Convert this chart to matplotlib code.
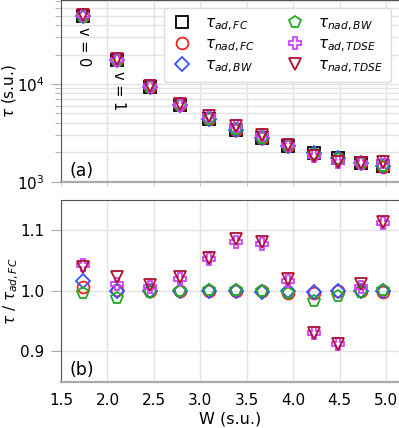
import numpy as np
import matplotlib
matplotlib.use('Agg')
import matplotlib.pyplot as plt

# -*- DATA -*-
w_vals = [1.74, 2.10, 2.46, 2.78, 3.09, 3.38, 3.66, 3.94, 4.22, 4.48, 4.73, 4.97]

# adiabatic Franck-Condon lifetimes (reference series)
tau_ad_fc = [49000, 17500, 9400, 6040, 4430, 3430, 2820, 2330, 1960, 1750, 1560, 1440]

# ratios tau / tau_ad,FC
ratio_nad_fc = [1.006, 1.001, 1.000, 1.000, 1.000, 1.000, 1.000, 0.996, 0.996, 1.000, 1.000, 0.998]
ratio_ad_bw = [1.017, 1.000, 1.000, 1.000, 1.000, 1.000, 0.998, 1.000, 0.998, 1.000, 1.000, 1.000]
ratio_nad_bw = [0.997, 0.989, 0.998, 1.000, 1.001, 1.002, 1.000, 0.997, 0.983, 0.991, 0.998, 1.001]
ratio_ad_tdse = [1.043, 1.011, 1.006, 1.020, 1.052, 1.080, 1.077, 1.017, 0.930, 0.912, 1.006, 1.112]
ratio_nad_tdse = [1.039, 1.023, 1.010, 1.023, 1.055, 1.085, 1.081, 1.019, 0.931, 0.913, 1.011, 1.114]

labels = [r'$\tau_{ad,FC}$', r'$\tau_{nad,FC}$', r'$\tau_{ad,BW}$',
          r'$\tau_{nad,BW}$', r'$\tau_{ad,TDSE}$', r'$\tau_{nad,TDSE}$']

# -*- STYLE -*-
markers = ['s', 'o', 'D', 'p', 'P', 'v']
colours = ['black', '#ff2020', '#3355ff', '#22aa22', '#cc44ff', '#b01030']
sizes = [8.5, 8.5, 7.5, 8.5, 8.5, 8.5]
spine_dark = '#555555'
spine_light = '#aaaaaa'
grid_colour = '#e3e3e3'

plt.rcParams['font.size'] = 11.5
plt.rcParams['mathtext.fontset'] = 'dejavusans'

fig = plt.figure(figsize=(3.99, 4.28), dpi=100)
ax1 = fig.add_axes([0.1529, 0.5748, 0.8471, 0.4252])
ax2 = fig.add_axes([0.1529, 0.1082, 0.8471, 0.4245])

ratios = [None, ratio_nad_fc, ratio_ad_bw, ratio_nad_bw, ratio_ad_tdse, ratio_nad_tdse]

# panel (a): absolute lifetimes
for i in range(6):
    if ratios[i] is None:
        y = np.array(tau_ad_fc)
    else:
        y = np.array(tau_ad_fc) * np.array(ratios[i])
    ax1.plot(w_vals, y, linestyle='none', marker=markers[i], ms=sizes[i],
             mfc='none', mec=colours[i], mew=1.3, label=labels[i])

# panel (b): ratios (ad,FC is the reference so not drawn)
for i in range(1, 6):
    ax2.plot(w_vals, ratios[i], linestyle='none', marker=markers[i], ms=sizes[i],
             mfc='none', mec=colours[i], mew=1.3)

ax1.set_yscale('log')
ax1.set_ylim(1e3, 7.2e4)
ax2.set_ylim(0.85, 1.15)
ax2.set_yticks([0.9, 1.0, 1.1])

for ax in [ax1, ax2]:
    ax.set_xlim(1.5, 5.138)
    ax.set_xticks([1.5, 2.0, 2.5, 3.0, 3.5, 4.0, 4.5, 5.0])
    ax.grid(True, which='major', color=grid_colour, linewidth=1)
    ax.set_axisbelow(True)
    ax.spines['left'].set_color(spine_dark)
    ax.spines['top'].set_color(spine_dark)
    ax.spines['right'].set_visible(False)
    ax.spines['bottom'].set_color(spine_light)
    ax.spines['bottom'].set_linewidth(1.6)
    ax.tick_params(axis='y', which='major', direction='out', length=7,
                   color=spine_light, pad=5, labelsize=11)
    ax.tick_params(axis='y', which='minor', direction='out', length=4,
                   color=spine_light)

ax1.grid(True, which='minor', axis='y', color=grid_colour, linewidth=1)
ax1.tick_params(axis='x', which='both', labelbottom=False, length=3,
                color='#cccccc', pad=8)
ax2.tick_params(axis='x', which='both', length=0, pad=8, labelsize=11)

ax1.set_ylabel(r'$\tau$ (s.u.)', fontsize=11)
ax2.set_ylabel(r'$\tau$ / $\tau_{ad,FC}$', fontsize=11)
ax1.yaxis.set_label_coords(-0.127, 0.5)
ax2.yaxis.set_label_coords(-0.118, 0.5)
ax2.set_xlabel('W (s.u.)', labelpad=3)

ax1.text(0.025, 0.035, '(a)', transform=ax1.transAxes, fontsize=12.5)
ax2.text(0.025, 0.035, '(b)', transform=ax2.transAxes, fontsize=12.5)

# vibrational level annotations
ax1.text(w_vals[0], 23800, 'v = 0', rotation=-90, ha='center', va='center',
         fontsize=10.5)
ax1.text(w_vals[1] + 0.02, 8650, 'v = 1', rotation=-90, ha='center',
         va='center', fontsize=10.5)

ax1.legend(loc='upper right', ncol=2, fontsize=11, handletextpad=0.9,
           columnspacing=1.9, borderpad=0.5, labelspacing=0.2,
           handlelength=1.3, borderaxespad=0,
           bbox_to_anchor=(0.976, 0.956), framealpha=1, edgecolor='#dddddd')

plt.savefig('out.png', dpi=100)
